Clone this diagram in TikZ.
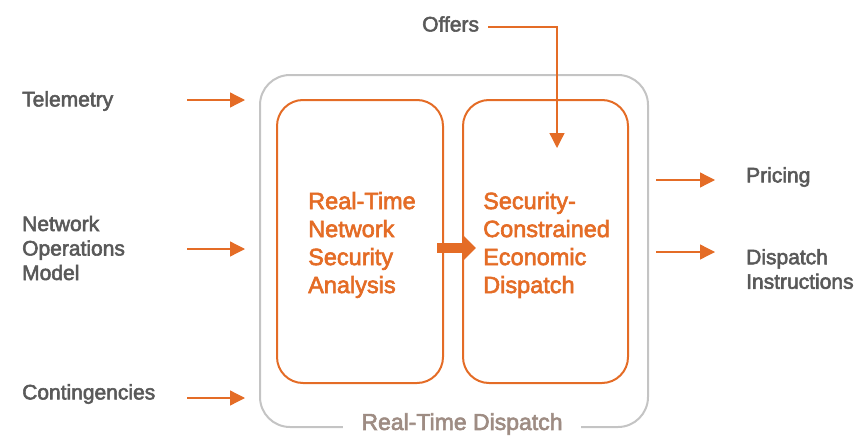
\documentclass[tikz,border=0pt]{standalone}
\usepackage{fontspec}
\setmainfont{Liberation Sans}
\newfontfamily\heavysans{Liberation Sans}[FakeBold=2.6]
\usetikzlibrary{arrows.meta}
\definecolor{rtorange}{HTML}{E46C26}
\definecolor{rtgray}{HTML}{595959}
\definecolor{rtframe}{HTML}{C4C4C4}
\definecolor{rttaupe}{HTML}{9E8C83}
\tikzset{
  lbl/.style={text=rtgray, font=\heavysans\fontsize{21}{24.5}\selectfont, align=left, inner sep=0pt},
  boxtxt/.style={text=rtorange, font=\heavysans\fontsize{23.5}{28}\selectfont, align=left, inner sep=0pt},
  flow/.style={draw=rtorange, line width=1.3pt, -{Triangle[length=15pt,width=15pt]}},
  stage/.style={draw=rtorange, line width=2pt, rounded corners=26pt},
}
\begin{document}
\begin{tikzpicture}[x=1pt,y=-1pt]
\useasboundingbox (0,0) rectangle (856,436);

% outer frame of the dispatch process
\draw[rtframe, line width=2pt, rounded corners=30pt] (260,75) rectangle (648,427);
\node[fill=white, inner xsep=18pt, inner ysep=2pt, text=rttaupe,
      font=\heavysans\fontsize{23}{26}\selectfont] (rtd) at (462,424) {Real-Time Dispatch};

% the two stages
\draw[stage] (277,100) rectangle (443,383);
\draw[stage] (463,100) rectangle (628,383);
\node[boxtxt, anchor=west] (nsa) at (308,245) {Real-Time\\Network\\Security\\Analysis};
\node[boxtxt, anchor=west] (sced) at (483,245) {Security-\\Constrained\\Economic\\Dispatch};

% block arrow between the stages
\coordinate (ba1) at (437,248);
\coordinate (ba2) at (476,248);
\draw[rtorange, line width=10pt, -{Triangle[length=12pt,width=23pt]}] (ba1) -- (ba2);

% offers feed
\node[lbl, anchor=west] (offers) at (422,24) {Offers};
\coordinate (of1) at (488,27);
\coordinate (of2) at (557,148);
\draw[flow] (of1) -| (of2);

% inputs
\node[lbl, anchor=west] (tele) at (22,101) {Telemetry};
\node[lbl, anchor=west] (nom) at (22,248) {Network\\Operations\\Model};
\node[lbl, anchor=west] (cont) at (22,394) {Contingencies};
\coordinate (t1) at (187,100); \coordinate (t2) at (245,100);
\coordinate (n1) at (187,249); \coordinate (n2) at (245,249);
\coordinate (c1) at (187,398); \coordinate (c2) at (245,398);
\draw[flow] (t1) -- (t2);
\draw[flow] (n1) -- (n2);
\draw[flow] (c1) -- (c2);

% outputs
\coordinate (p1) at (656,180); \coordinate (p2) at (715,180);
\coordinate (d1) at (656,252); \coordinate (d2) at (715,252);
\draw[flow] (p1) -- (p2);
\draw[flow] (d1) -- (d2);
\node[lbl, anchor=west] (price) at (746,177) {Pricing};
\node[lbl, anchor=west] (disp) at (746,269) {Dispatch\\Instructions};
\end{tikzpicture}
\end{document}
